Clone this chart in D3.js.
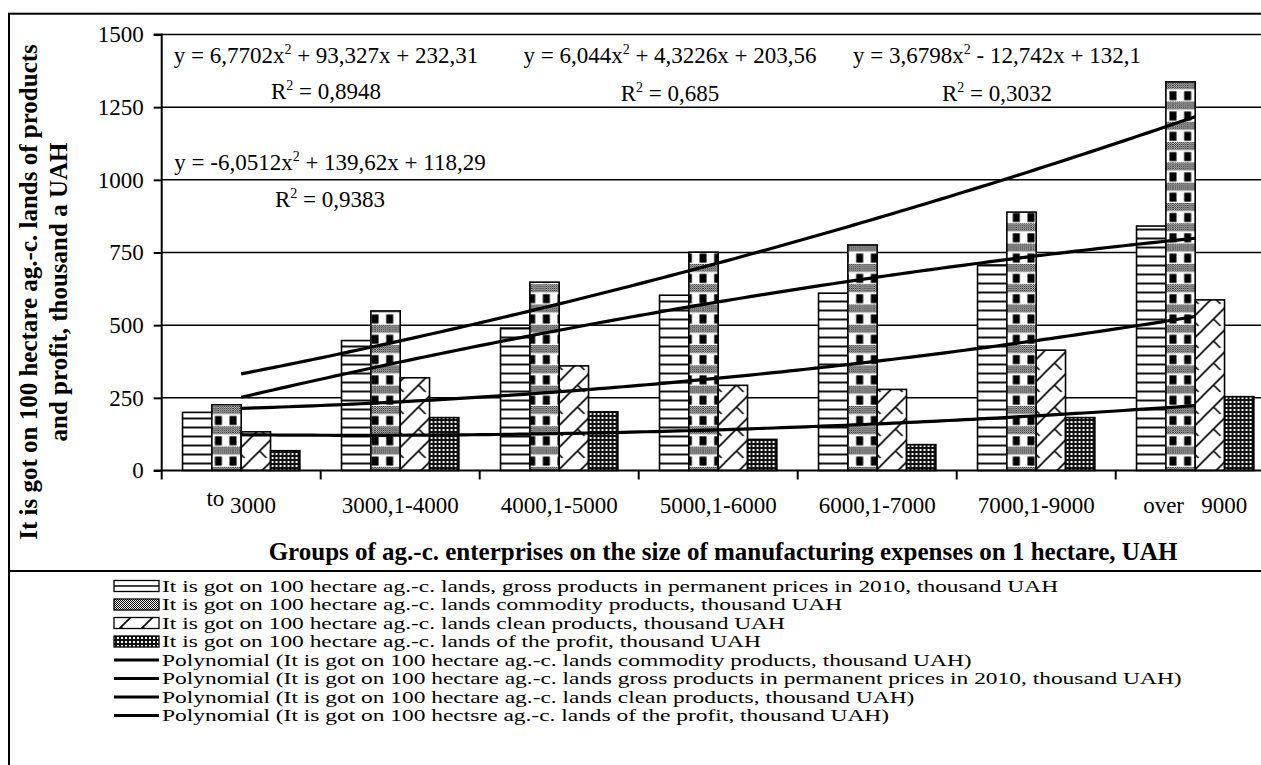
<!DOCTYPE html>
<html><head><meta charset="utf-8">
<script src="https://cdn.jsdelivr.net/npm/d3@7"></script>
<style>
body{margin:0;background:#fff;}
svg{display:block;font-family:"Liberation Serif","Times New Roman",serif;}
</style></head><body>
<svg id="c" width="1261" height="765"></svg>
<script>
// ---------- data ----------
const categories = ["to 3000","3000,1-4000","4000,1-5000","5000,1-6000","6000,1-7000","7000,1-9000","over 9000"];
const grossValues     = [200, 447, 490, 603, 610, 707, 841];
const commodityValues = [226, 549, 648, 751, 776, 889, 1337];
const cleanValues     = [133, 319, 360, 293, 279, 414, 587];
const profitValues    = [68, 182, 202, 107, 89, 182, 254];
const yTicks = [0, 250, 500, 750, 1000, 1250, 1500];

// trend-line coefficients shown on the chart (a, b, c of a*x^2 + b*x + c)
const commodityTrend = [6.7702, 93.327, 232.31];
const grossTrend     = [-6.0512, 139.62, 118.29];
const cleanTrend     = [6.044, 4.3226, 203.56];
const profitTrend    = [3.6798, -12.742, 132.1];

const eqLabels = [
  ["y = 6,7702x", " + 93,327x + 232,31", "0,8948"],
  ["y = -6,0512x", " + 139,62x + 118,29", "0,9383"],
  ["y = 6,044x", " + 4,3226x + 203,56", "0,685"],
  ["y = 3,6798x", " - 12,742x + 132,1", "0,3032"]
];
const barNames = [
  "It is got on 100 hectare ag.-c. lands, gross products in permanent prices in 2010, thousand UAH",
  "It is got on 100 hectare ag.-c. lands commodity products, thousand UAH",
  "It is got on 100 hectare ag.-c. lands clean products, thousand UAH",
  "It is got on 100 hectare ag.-c. lands of the profit, thousand UAH"
];
const trendNames = [
  "Polynomial (It is got on 100 hectare ag.-c. lands commodity products, thousand UAH)",
  "Polynomial (It is got on 100 hectare ag.-c. lands gross products in permanent prices in 2010, thousand UAH)",
  "Polynomial (It is got on 100 hectare ag.-c. lands clean products, thousand UAH)",
  "Polynomial (It is got on 100 hectsre ag.-c. lands of the profit, thousand UAH)"
];
const xTitle = "Groups of ag.-c. enterprises on the size of manufacturing expenses on 1 hectare, UAH";
const yTitle = ["It is got on 100 hectare ag.-c. lands of products", "and profit, thousand a UAH"];

// ---------- layout ----------
const svg = d3.select("#c");
const L = 161.7, T = 34.5, B = 470.5, R = 161.7 + 7 * 159;

const x = d3.scaleBand().domain(categories).range([L, R]).paddingInner(0.262).paddingOuter(0.131);
const keys = ["gross","commodity","clean","profit"];
const xi = d3.scaleBand().domain(keys).range([0, x.bandwidth()]);
const y = d3.scaleLinear().domain([0, 1500]).range([B, T]);

const table = categories.map((c, i) => ({cat: c, i,
  gross: grossValues[i], commodity: commodityValues[i], clean: cleanValues[i], profit: profitValues[i]}));

// ---------- patterns ----------
const defs = svg.append("defs");
function pat(id, w, h, px) {
  const p = defs.append("pattern").attr("id", id).attr("patternUnits","userSpaceOnUse")
    .attr("width", w).attr("height", h);
  if (px !== undefined) p.attr("x", px);
  p.append("rect").attr("width", w).attr("height", h).attr("fill", "#fff");
  return p;
}
const pg = pat("pGross", 10, 9);
pg.append("rect").attr("y", 3.5).attr("width", 10).attr("height", 2).attr("fill", "#111");

const pc = pat("pChk", 2, 2);
pc.append("rect").attr("width", 1).attr("height", 1).attr("fill", "#000");
pc.append("rect").attr("x", 1).attr("y", 1).attr("width", 1).attr("height", 1).attr("fill", "#000");

const pcl = pat("pClean", 22, 22);
pcl.append("path").attr("d", "M0,22L22,0M-2,2L2,-2M20,24L24,20M11,11L18,18")
  .attr("stroke", "#000").attr("stroke-width", 1.6).attr("fill", "none");

const pp = defs.append("pattern").attr("id", "pProfit").attr("patternUnits","userSpaceOnUse")
  .attr("width", 4).attr("height", 4);
pp.append("rect").attr("width", 4).attr("height", 4).attr("fill", "#111");
pp.append("rect").attr("x", 1).attr("y", 1).attr("width", 2).attr("height", 2).attr("fill", "#fff");

const tw = xi.bandwidth() / 2;
table.forEach(d => {
  const bx = x(d.cat) + xi("commodity");
  const p = pat("pComm" + d.i, tw, 20.3, bx);
  p.append("rect").attr("y", 0).attr("width", tw).attr("height", 8).attr("fill", "url(#pChk)");
  p.append("rect").attr("x", 0).attr("y", 10).attr("width", 3.5).attr("height", 9).attr("fill", "#000");
  p.append("rect").attr("x", tw - 3.5).attr("y", 10).attr("width", 3.5).attr("height", 9).attr("fill", "#000");
});
const fills = {gross: () => "url(#pGross)", commodity: d => "url(#pComm" + d.i + ")",
               clean: () => "url(#pClean)", profit: () => "url(#pProfit)"};

// ---------- frame ----------
svg.append("rect").attr("x", 9).attr("y", 13.7).attr("width", 1400).attr("height", 900)
  .attr("fill", "none").attr("stroke", "#000").attr("stroke-width", 2);
svg.append("line").attr("x1", 9).attr("x2", 1300).attr("y1", 571).attr("y2", 571)
  .attr("stroke", "#000").attr("stroke-width", 2);

// ---------- grid ----------
svg.append("g").selectAll("line").data(yTicks.filter(t => t > 0)).join("line")
  .attr("x1", L).attr("x2", R).attr("y1", d => y(d)).attr("y2", d => y(d))
  .attr("stroke", "#000").attr("stroke-width", 1.5);

// ---------- bars ----------
const groups = svg.append("g").selectAll("g").data(table).join("g")
  .attr("transform", d => `translate(${x(d.cat)},0)`);
groups.selectAll("rect").data(d => keys.map(k => ({k, v: d[k], d}))).join("rect")
  .attr("x", e => xi(e.k)).attr("width", xi.bandwidth())
  .attr("y", e => y(e.v)).attr("height", e => y(0) - y(e.v))
  .attr("fill", e => fills[e.k](e.d))
  .attr("stroke", "#000").attr("stroke-width", 1.6);

// ---------- axes ----------
const yAxis = svg.append("g").attr("transform", `translate(${L},0)`)
  .call(d3.axisLeft(y).tickValues(yTicks).tickSize(8).tickPadding(10).tickFormat(d3.format("d")));
yAxis.select(".domain").attr("stroke-width", 2).attr("d", `M-8,${T}H0V${B}`);
yAxis.selectAll(".tick line").attr("stroke-width", 2);
yAxis.selectAll("text").attr("font-size", 23).attr("font-family", "Liberation Serif").attr("fill", "#000");

const xAxis = svg.append("g").attr("transform", `translate(0,${B})`)
  .call(d3.axisBottom(x).tickSize(0).tickFormat(""));
xAxis.select(".domain").attr("stroke-width", 2).attr("d", `M${L - 8},0H${R}`);
// tick marks at category boundaries
svg.append("g").selectAll("line").data(categories).join("line")
  .attr("x1", d => x(d) - x.step() * 0.131).attr("x2", d => x(d) - x.step() * 0.131)
  .attr("y1", B).attr("y2", B + 9).attr("stroke", "#000").attr("stroke-width", 2);

// category labels
const lab = svg.append("g").selectAll("text").data(categories).join("text")
  .attr("x", d => x(d) + x.bandwidth() / 2).attr("y", 513)
  .attr("text-anchor", "middle").attr("font-size", 23).attr("fill", "#000")
  .style("white-space", "pre");
lab.each(function(d, i) {
  const t = d3.select(this);
  if (i === 0) {
    const parts = d.split(" ");
    t.append("tspan").attr("dy", -7).text(parts[0]);
    t.append("tspan").attr("dy", 7).text(" " + parts[1]);
  } else if (i === categories.length - 1) {
    const parts = d.split(" ");
    t.text(parts[0] + "   " + parts[1]);
  } else t.text(d);
});

// axis titles
svg.append("text").attr("x", 723).attr("y", 560).attr("text-anchor", "middle")
  .attr("font-size", 25).attr("font-weight", "bold").text(xTitle);
svg.append("g").attr("transform", "translate(37,292) rotate(-90)").selectAll("text")
  .data(yTitle).join("text").attr("x", 0).attr("y", (d, i) => i * 30)
  .attr("text-anchor", "middle").attr("font-size", 25).attr("font-weight", "bold").text(d => d);

// ---------- trend lines ----------
const c0 = x(categories[0]) + x.bandwidth() / 2, c6 = x(categories[6]) + x.bandwidth() / 2;
const xt = d3.scaleLinear().domain([1, 7]).range([c0, c6]);
const steps = d3.range(1, 7.0001, 0.05);
const line = d3.line().x(p => xt(p[0])).y(p => y(p[1]));
[commodityTrend, grossTrend, cleanTrend, profitTrend].forEach(c => {
  const pts = steps.map(s => [s, c[0] * s * s + c[1] * s + c[2]]);
  svg.append("path").attr("d", line(pts)).attr("fill", "none")
    .attr("stroke", "#000").attr("stroke-width", 3.2);
});

// ---------- equation labels ----------
const eqPos = [[326, 63, 99], [330, 170, 207], [670, 63, 101], [997, 63, 101]];
eqLabels.forEach((e, i) => {
  const [cx, y1, y2] = eqPos[i];
  const t1 = svg.append("text").attr("x", cx).attr("y", y1).attr("text-anchor", "middle").attr("font-size", 23);
  t1.append("tspan").text(e[0]);
  t1.append("tspan").attr("dy", -9).attr("font-size", 14).text("2");
  t1.append("tspan").attr("dy", 9).text(e[1]);
  const t2 = svg.append("text").attr("x", cx).attr("y", y2).attr("text-anchor", "middle").attr("font-size", 23);
  t2.append("tspan").text("R");
  t2.append("tspan").attr("dy", -9).attr("font-size", 14).text("2");
  t2.append("tspan").attr("dy", 9).text(" = " + e[2]);
});

// ---------- legend ----------
const leg = svg.append("g");
const rowY = i => 586 + i * 18.5;
const symFill = ["#fff", "url(#pChk)", "url(#pClean)", "url(#pProfit)"];
const SX = 114, SW = 45;
barNames.forEach((n, i) => {
  const g = leg.append("g");
  g.append("rect").attr("x", SX).attr("y", rowY(i) - 5.5).attr("width", SW).attr("height", 11)
    .attr("fill", symFill[i]).attr("stroke", "#000").attr("stroke-width", 1.3);
  if (i === 0) g.append("line").attr("x1", SX).attr("x2", SX + SW).attr("y1", rowY(i)).attr("y2", rowY(i))
    .attr("stroke", "#000").attr("stroke-width", 1.3);
});
trendNames.forEach((n, j) => {
  const i = j + 4;
  leg.append("line").attr("x1", SX).attr("x2", SX + SW).attr("y1", rowY(i)).attr("y2", rowY(i))
    .attr("stroke", "#000").attr("stroke-width", 3);
});
barNames.concat(trendNames).forEach((n, i) => {
  leg.append("text").attr("transform", `translate(162,${rowY(i) + 5.5}) scale(1.42,1)`)
    .attr("font-size", 16.5).text(n);
});
</script>
</body></html>
